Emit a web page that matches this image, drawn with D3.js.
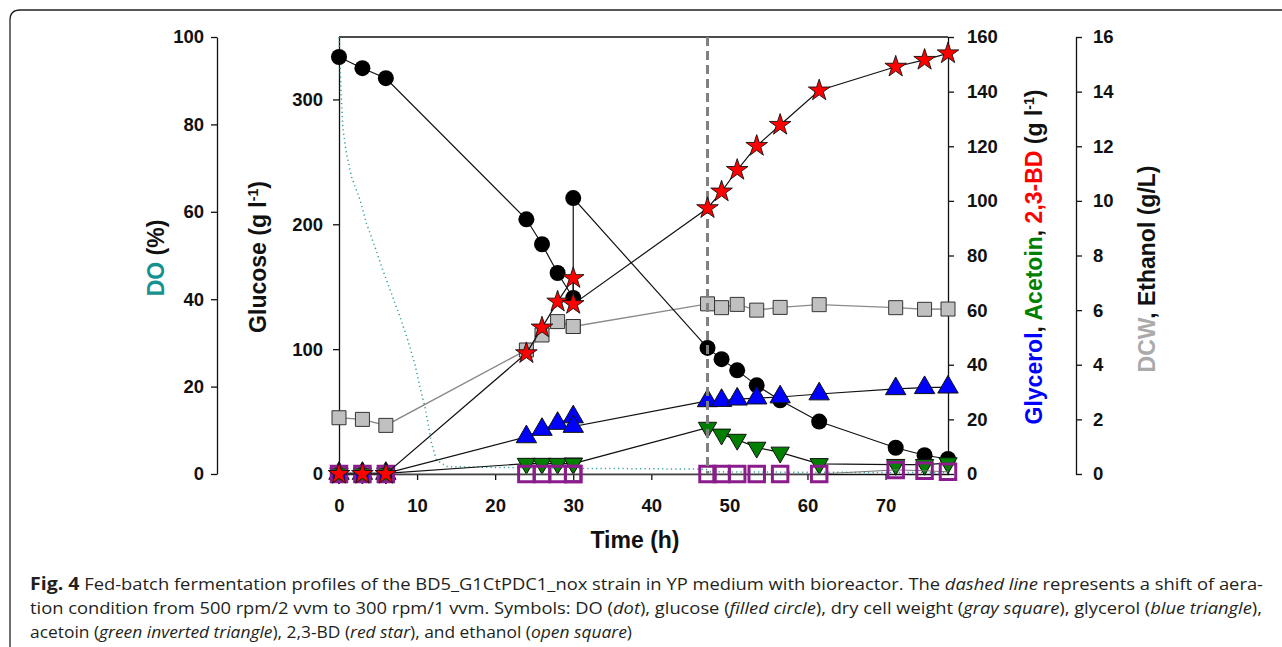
<!DOCTYPE html>
<html>
<head>
<meta charset="utf-8">
<script src="https://cdn.jsdelivr.net/npm/d3@7"></script>
<style>
  body { margin: 0; background: #fff; }
  svg { display: block; }
</style>
</head>
<body>
<div id="container"><svg></svg></div>
<script>
let width = 1282;
let height = 647;

// sampling times (h), 30 h appears twice: before and after the feed
let time = [0, 3, 6, 24, 26, 28, 30, 30, 47.2, 49, 51, 53.5, 56.5, 61.5, 71.3, 75, 78];
let glucose = [334, 325, 317, 204, 184, 161, 141, 221, 101, 92, 83, 71, 59, 42, 21, 15, 12];
let bd = [0, 0, 0, 44.2, 53.6, 63.1, 71.7, 62.2, 97.3, 103.4, 111.3, 120.1, 127.8, 140.4, 149.1, 151.6, 154];
let glycerol = [0.2, 0.2, 0.2, 13.6, 16.3, 18.5, 20.9, 17.4, 26.8, 26.9, 27.4, 27.8, 28.2, 29.3, 31.2, 31.6, 31.8];
let acetoin = [0.2, 0.2, 0.2, 3.8, 3.8, 3.8, 3.9, 3.8, 17.0, 14.5, 12.6, 9.7, 7.9, 3.7, 3.4, 3.4, 4.0];
let dcw = [2.06, 2.0, 1.78, 4.54, 5.09, 5.58, 5.4, 5.4, 6.23, 6.09, 6.21, 6.0, 6.1, 6.2, 6.09, 6.03, 6.04];
let ethanol = [0, 0, 0, 0, 0, 0, 0, 0, 0, 0, 0, 0, 0, 0, 0.15, 0.12, 0.08];

// dissolved oxygen trace
let doTime = [0, 0.3, 0.5, 0.95, 1.6, 2.7, 3.5, 4.6, 5.6, 6.7, 7.8, 8.8, 9.7, 10.35, 11, 11.4, 11.85, 12.5, 13.8, 20, 30, 40, 47, 47.5, 60, 78];
let doValue = [100, 86, 79, 73.4, 68, 62.7, 57.4, 52, 46.7, 41.4, 36, 30.7, 25.3, 20, 15.4, 11.6, 7, 3.2, 1.7, 1.5, 1.3, 1.2, 1.1, 0.5, 0.4, 0.3];

let shiftTime = 47.2;  // aeration shift

let xTicks = [0, 10, 20, 30, 40, 50, 60, 70];
let doTicks = [0, 20, 40, 60, 80, 100];
let gluTicks = [0, 100, 200, 300];
let rightTicks = [0, 20, 40, 60, 80, 100, 120, 140, 160];
let right2Ticks = [0, 2, 4, 6, 8, 10, 12, 14, 16];

let captionLines = [
    [["Fig. 4", "bold"], ["  Fed-batch fermentation profiles of the BD5_G1CtPDC1_nox strain in YP medium with bioreactor. The ", ""], ["dashed line", "italic"], [" represents a shift of aera-", ""]],
    [["tion condition from 500 rpm/2 vvm to 300 rpm/1 vvm. Symbols: DO (", ""], ["dot", "italic"], ["), glucose (", ""], ["filled circle", "italic"], ["), dry cell weight (", ""], ["gray square", "italic"], ["), glycerol (", ""], ["blue triangle", "italic"], ["),", ""]],
    [["acetoin (", ""], ["green inverted triangle", "italic"], ["), 2,3-BD (", ""], ["red star", "italic"], ["), and ethanol (", ""], ["open square", "italic"], [")", ""]]
];
let captionWidth = [1233, 1232, 602];

function draw() {
    let svg = d3.select('#container').select('svg')
        .attr('width', width)
        .attr('height', height);

    let font = "'Liberation Sans', Arial, sans-serif";

    let x = d3.scaleLinear().domain([0, 78]).range([339, 948]);
    let yDO = d3.scaleLinear().domain([0, 100]).range([474, 37]);
    let yGlu = d3.scaleLinear().domain([0, 350]).range([474, 37]);
    let yR = d3.scaleLinear().domain([0, 160]).range([474, 37]);
    let yR2 = d3.scaleLinear().domain([0, 16]).range([474, 37]);

    // outer panel border
    svg.append('path')
        .attr('d', 'M10,660 L10,20 Q10,10 20,10 L1300,10')
        .attr('fill', 'none')
        .attr('stroke', '#222')
        .attr('stroke-width', 1.3);

    // axes
    function styleAxis(g) {
        g.selectAll('path, line').attr('stroke', '#111').attr('stroke-width', 1.3);
        g.selectAll('text')
            .attr('font-family', font)
            .attr('font-weight', 'bold')
            .attr('font-size', 18.5)
            .attr('fill', '#111');
    }

    svg.append('g').attr('transform', 'translate(217,0)')
        .call(d3.axisLeft(yDO).tickValues(doTicks).tickSize(6).tickSizeOuter(0).tickPadding(7))
        .call(styleAxis);
    svg.append('g').attr('transform', 'translate(339,0)')
        .call(d3.axisLeft(yGlu).tickValues(gluTicks).tickSize(6).tickSizeOuter(0).tickPadding(10))
        .call(styleAxis);
    svg.append('g').attr('transform', 'translate(948,0)')
        .call(d3.axisRight(yR).tickValues(rightTicks).tickSize(6).tickSizeOuter(0).tickPadding(13))
        .call(styleAxis);
    svg.append('g').attr('transform', 'translate(1076,0)')
        .call(d3.axisRight(yR2).tickValues(right2Ticks).tickSize(6).tickSizeOuter(0).tickPadding(11))
        .call(styleAxis);
    svg.append('g').attr('transform', 'translate(0,474)')
        .call(d3.axisBottom(x).tickValues(xTicks).tickSize(6).tickSizeOuter(0).tickPadding(19))
        .call(styleAxis);

    // top frame
    svg.append('line')
        .attr('x1', x(0)).attr('x2', x(78))
        .attr('y1', yR(160)).attr('y2', yR(160))
        .attr('stroke', '#111').attr('stroke-width', 1.3);

    // axis titles
    function vTitle(cx, cy, parts) {
        let t = svg.append('text')
            .attr('transform', `translate(${cx},${cy}) rotate(-90)`)
            .attr('text-anchor', 'middle')
            .attr('dy', '0.35em')
            .attr('font-family', font)
            .attr('font-weight', 'bold')
            .attr('font-size', 23);
        parts.forEach(p => {
            let s = t.append('tspan').text(p[0]).attr('fill', p[1]);
            if (p[2]) s.attr('baseline-shift', 'super').attr('font-size', 14);
        });
    }
    vTitle(156, 258, [["DO", "#15918f"], [" (%)", "#111"]]);
    vTitle(258, 257, [["Glucose (g l", "#111"], ["-1", "#111", true], [")", "#111"]]);
    vTitle(1034, 257, [["Glycerol", "#0000ff"], [", ", "#111"], ["Acetoin", "#008000"], [", ", "#111"], ["2,3-BD", "#ff0000"], [" (g l", "#111"], ["-1", "#111", true], [")", "#111"]]);
    vTitle(1147, 269, [["DCW", "#aaaaaa"], [", Ethanol (g/L)", "#111"]]);

    svg.append('text')
        .attr('x', 635).attr('y', 548)
        .attr('text-anchor', 'middle')
        .attr('font-family', font)
        .attr('font-weight', 'bold')
        .attr('font-size', 23)
        .attr('fill', '#111')
        .text('Time (h)');

    // DO dotted trace
    let doData = doTime.map((t, i) => ({ t: t, v: doValue[i] }));
    svg.append('path')
        .datum(doData)
        .attr('fill', 'none')
        .attr('stroke', '#2f9f9f')
        .attr('stroke-width', 1.5)
        .attr('stroke-dasharray', '1.2,3.2')
        .attr('d', d3.line().x(d => x(d.t)).y(d => yDO(d.v)));

    let rows = time.map((t, i) => ({
        t: t, glu: glucose[i], bd: bd[i], gly: glycerol[i],
        ace: acetoin[i], dcw: dcw[i], eth: ethanol[i]
    }));

    function series(key, y, lineColor, lineWidth) {
        svg.append('path')
            .datum(rows)
            .attr('fill', 'none')
            .attr('stroke', lineColor)
            .attr('stroke-width', lineWidth)
            .attr('d', d3.line().x(d => x(d.t)).y(d => y(d[key])));
    }

    // DCW
    series('dcw', yR2, '#8a8a8a', 1.4);
    svg.append('g').selectAll('path').data(rows).join('path')
        .attr('transform', d => `translate(${x(d.t)},${yR2(d.dcw)})`)
        .attr('d', d3.symbol(d3.symbolSquare, 196))
        .attr('fill', '#c0c0c0')
        .attr('stroke', '#333')
        .attr('stroke-width', 1);

    // glucose
    series('glu', yGlu, '#111', 1.2);
    svg.append('g').selectAll('circle').data(rows).join('circle')
        .attr('cx', d => x(d.t))
        .attr('cy', d => yGlu(d.glu))
        .attr('r', 8)
        .attr('fill', '#000');

    // glycerol
    series('gly', yR, '#111', 1.2);
    svg.append('g').selectAll('path').data(rows).join('path')
        .attr('transform', d => `translate(${x(d.t)},${yR(d.gly)})`)
        .attr('d', d3.symbol(d3.symbolTriangle, 180))
        .attr('fill', '#0000ff')
        .attr('stroke', '#111')
        .attr('stroke-width', 1);

    // acetoin
    series('ace', yR, '#111', 1.2);
    svg.append('g').selectAll('path').data(rows).join('path')
        .attr('transform', d => `translate(${x(d.t)},${yR(d.ace)}) rotate(180)`)
        .attr('d', d3.symbol(d3.symbolTriangle, 145))
        .attr('fill', '#007f00')
        .attr('stroke', '#111')
        .attr('stroke-width', 1);

    // ethanol
    series('eth', yR2, '#777', 1);
    svg.append('g').selectAll('path').data(rows).join('path')
        .attr('transform', d => `translate(${x(d.t)},${yR2(d.eth)})`)
        .attr('d', d3.symbol(d3.symbolSquare, 240))
        .attr('fill', 'none')
        .attr('stroke', '#8b1c8b')
        .attr('stroke-width', 3);

    // aeration shift
    svg.append('line')
        .attr('x1', x(shiftTime)).attr('x2', x(shiftTime))
        .attr('y1', yR(160)).attr('y2', yR(0))
        .attr('stroke', '#808080')
        .attr('stroke-width', 3)
        .attr('stroke-dasharray', '9,5');

    // 2,3-BD
    series('bd', yR, '#111', 1.2);
    svg.append('g').selectAll('path').data(rows).join('path')
        .attr('transform', d => `translate(${x(d.t)},${yR(d.bd)})`)
        .attr('d', d3.symbol(d3.symbolStar, 145))
        .attr('fill', '#ff0000')
        .attr('stroke', '#111')
        .attr('stroke-width', 0.9);

    // caption
    let baselines = [590, 614, 638];
    captionLines.forEach((line, i) => {
        let t = svg.append('text')
            .attr('x', 30).attr('y', baselines[i])
            .attr('font-family', "'Liberation Sans Narrow', 'Open Sans', 'Noto Sans', sans-serif")
            .attr('font-size', 16)
            .attr('fill', '#231f20')
            .attr('textLength', captionWidth[i])
            .attr('lengthAdjust', 'spacingAndGlyphs');
        line.forEach(p => {
            let s = t.append('tspan').text(p[0]);
            if (p[1] == 'bold') s.attr('font-weight', 'bold').attr('font-size', 17);
            if (p[1] == 'italic') s.attr('font-style', 'italic');
        });
    });
}

draw();
</script>
</body>
</html>
